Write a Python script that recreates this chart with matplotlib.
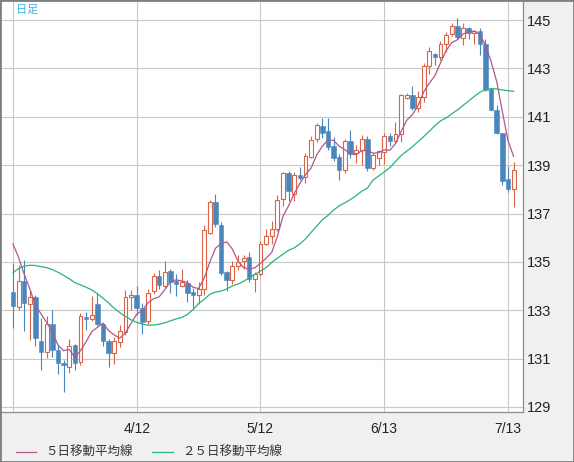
import matplotlib.pyplot as plt
import pandas as pd
from matplotlib.lines import Line2D
from matplotlib.patches import Rectangle

plt.rcParams['font.family'] = ['Liberation Sans', 'Noto Sans CJK JP']

# daily candles, oldest first
opens = [133.77, 133.14, 134.21, 133.26, 133.54, 131.73, 131.28, 132.41, 131.35, 130.82,
         130.64, 131.55, 130.84, 132.72, 132.65, 133.24, 132.41, 131.73, 131.21, 131.67,
         132.08, 133.55, 133.64, 133.09, 132.54, 133.81, 134.40, 134.02, 134.63, 134.21,
         133.99, 134.14, 133.74, 133.61, 133.86, 136.20, 137.46, 136.54, 134.59, 134.23,
         134.81, 135.04, 135.21, 134.28, 134.48, 135.72, 136.09, 136.36, 137.58, 138.68,
         137.80, 138.60, 138.49, 139.35, 140.07, 140.63, 140.41, 139.79, 139.33, 138.81,
         139.99, 139.50, 139.61, 140.10, 138.89, 139.30, 139.55, 140.21, 139.99, 140.27,
         141.79, 141.92, 141.37, 141.83, 143.10, 143.60, 143.46, 144.03, 144.42, 144.75,
         144.24, 144.66, 144.45, 144.53, 144.03, 142.16, 141.30, 140.31, 138.41, 138.03]
highs = [134.95, 134.85, 135.08, 133.85, 133.65, 132.68, 132.75, 132.99, 131.58, 130.95,
         131.80, 131.60, 132.88, 132.93, 133.57, 133.71, 132.45, 131.83, 131.90, 132.38,
         133.85, 133.84, 134.02, 133.30, 133.88, 134.56, 134.67, 135.04, 134.70, 134.48,
         134.72, 134.24, 133.90, 134.17, 136.54, 137.57, 137.79, 136.63, 134.64, 135.03,
         135.28, 135.28, 135.41, 134.60, 135.85, 136.38, 136.71, 137.78, 138.71, 138.74,
         138.72, 138.92, 139.52, 140.20, 140.75, 140.95, 140.93, 140.18, 139.45, 140.10,
         140.45, 139.83, 140.24, 140.21, 139.52, 139.62, 140.31, 140.35, 140.77, 141.93,
         142.00, 142.28, 142.08, 143.22, 143.90, 143.62, 144.14, 144.52, 144.90, 145.07,
         144.86, 144.72, 144.59, 144.66, 144.20, 142.21, 141.48, 140.34, 138.98, 139.14]
lows = [132.26, 132.99, 132.16, 131.75, 131.52, 130.53, 131.04, 131.05, 130.36, 129.63,
        130.42, 130.52, 130.75, 132.17, 132.57, 132.35, 131.53, 130.65, 130.77, 131.49,
        131.97, 132.99, 132.79, 132.03, 132.42, 133.69, 133.88, 133.92, 133.70, 133.58,
        133.95, 133.34, 133.07, 133.26, 133.62, 136.16, 136.45, 134.45, 133.79, 134.09,
        134.67, 134.72, 134.16, 133.75, 134.40, 135.68, 135.75, 136.27, 137.30, 137.50,
        137.52, 138.40, 138.26, 139.30, 139.97, 140.11, 139.63, 139.19, 138.38, 138.66,
        139.28, 139.07, 139.00, 138.75, 138.79, 139.00, 139.03, 139.80, 139.90, 139.97,
        141.73, 141.28, 141.21, 141.62, 142.77, 143.14, 143.34, 143.69, 144.34, 144.20,
        143.97, 144.20, 144.03, 143.55, 142.08, 141.27, 140.28, 138.17, 137.90, 137.25]
closes = [133.16, 134.21, 133.29, 133.56, 131.86, 131.29, 132.45, 131.37, 130.80, 130.73,
          131.53, 130.83, 132.75, 132.63, 132.82, 132.42, 131.71, 131.21, 131.73, 132.16,
          133.55, 133.64, 133.10, 132.52, 133.72, 134.40, 134.04, 134.59, 134.15, 134.10,
          134.17, 133.73, 133.61, 133.86, 136.31, 137.46, 136.57, 134.56, 134.23, 134.82,
          135.00, 135.18, 134.28, 134.49, 135.75, 136.06, 136.38, 137.56, 138.68, 137.92,
          138.58, 138.48, 139.38, 140.03, 140.68, 140.35, 139.77, 139.30, 138.80, 139.99,
          139.48, 139.61, 140.10, 138.89, 139.40, 139.58, 140.21, 139.99, 140.27, 141.90,
          141.92, 141.37, 141.83, 143.09, 143.73, 143.46, 144.03, 144.37, 144.75, 144.31,
          144.66, 144.48, 144.53, 144.03, 142.10, 141.30, 140.31, 138.35, 138.03, 138.82]
# closes of the four sessions before the window (for the 5-day average)
prev_closes = [137.06, 136.74, 136.61, 135.16]
# 25-day average as drawn
ma25 = [134.56, 134.72, 134.82, 134.86, 134.85, 134.80, 134.76, 134.68, 134.57, 134.44,
        134.30, 134.14, 134.05, 133.95, 133.84, 133.68, 133.50, 133.30, 133.08, 132.90,
        132.74, 132.60, 132.50, 132.42, 132.38, 132.39, 132.42, 132.48, 132.56, 132.64,
        132.70, 132.82, 133.02, 133.28, 133.45, 133.66, 133.75, 133.79, 133.88, 134.00,
        134.08, 134.20, 134.33, 134.48, 134.62, 134.76, 134.98, 135.15, 135.32, 135.48,
        135.58, 135.74, 135.95, 136.22, 136.48, 136.74, 136.92, 137.14, 137.32, 137.44,
        137.58, 137.74, 137.92, 138.05, 138.38, 138.55, 138.72, 138.90, 139.15, 139.40,
        139.58, 139.76, 139.97, 140.18, 140.40, 140.63, 140.83, 140.95, 141.12, 141.28,
        141.47, 141.65, 141.84, 142.02, 142.12, 142.17, 142.15, 142.11, 142.08, 142.05]

date_tick_idx = [0, 22, 44, 66, 88]
date_labels = ['', '4/12', '5/12', '6/13', '7/13']
price_ticks = list(range(129, 146, 2))

up_col = '#dc6446'
down_col = '#4a86be'
ma5_col = '#b0588a'
ma25_col = '#2ab478'

W, H = 574, 462
fig = plt.figure(figsize=(W / 100, H / 100), dpi=100)
fig.patch.set_facecolor('#f0f0f0')
ax = fig.add_axes([1 / W, 50 / H, 522 / W, 411 / H])
ax.set_facecolor('white')

df = pd.DataFrame({'o': opens, 'h': highs, 'l': lows, 'c': closes})
x = df.index.values
up = df['c'] >= df['o']

# wicks
ax.vlines(x[up], df['l'][up], df['h'][up], color=up_col, lw=0.8, zorder=2)
ax.vlines(x[~up], df['l'][~up], df['h'][~up], color=down_col, lw=0.8, zorder=2)

# bodies
body = (df['c'] - df['o']).abs().clip(lower=0.04)
bottom = df[['o', 'c']].min(axis=1)
ax.bar(x[up], body[up], bottom=bottom[up], width=0.7, facecolor='white',
       edgecolor=up_col, linewidth=0.8, zorder=3)
ax.bar(x[~up], body[~up], bottom=bottom[~up], width=0.8, facecolor=down_col,
       edgecolor=down_col, linewidth=0.4, zorder=3)

ma5 = pd.Series(prev_closes + closes).rolling(5).mean().iloc[4:].values
ax.plot(x, ma5, color=ma5_col, lw=0.9, zorder=4)
ax.plot(x, ma25, color=ma25_col, lw=0.9, zorder=4)

ax.set_xlim(-2.13, 90.67)
ax.set_ylim(128.79, 145.79)

ax.set_xticks(date_tick_idx)
ax.set_xticklabels(date_labels)
ax.set_yticks(price_ticks)
ax.yaxis.tick_right()
ax.tick_params(axis='x', length=0, pad=7, labelsize=10, colors='#222222')
ax.tick_params(axis='y', length=0, pad=3, labelsize=10.5, colors='#222222')
ax.grid(True, color='#c8c8c8', lw=0.8)
ax.set_axisbelow(True)

for s in ['top', 'left']:
    ax.spines[s].set_visible(False)
for s in ['bottom', 'right']:
    ax.spines[s].set_color('#8c8c8c')
    ax.spines[s].set_linewidth(0.9)

fig.text(16 / W, 1 - 10 / H, '日足', color='#3cb4e6', fontsize=8,
         family='Noto Sans CJK JP', va='center', ha='left')

# legend strip
ly = 1 - 452 / H
fig.add_artist(Line2D([16 / W, 36 / W], [ly, ly], color=ma5_col, lw=0.9))
fig.text(45 / W, ly, '５日移動平均線', fontsize=9, family='Noto Sans CJK JP',
         va='center', ha='left', color='#333333')
fig.add_artist(Line2D([152 / W, 173 / W], [ly, ly], color=ma25_col, lw=0.9))
fig.text(182 / W, ly, '２５日移動平均線', fontsize=9, family='Noto Sans CJK JP',
         va='center', ha='left', color='#333333')

fig.add_artist(Rectangle((0, 0), 1, 1, transform=fig.transFigure, fill=False,
                         edgecolor='#7f7f7f', lw=2))

fig.savefig('out.png', dpi=100)
